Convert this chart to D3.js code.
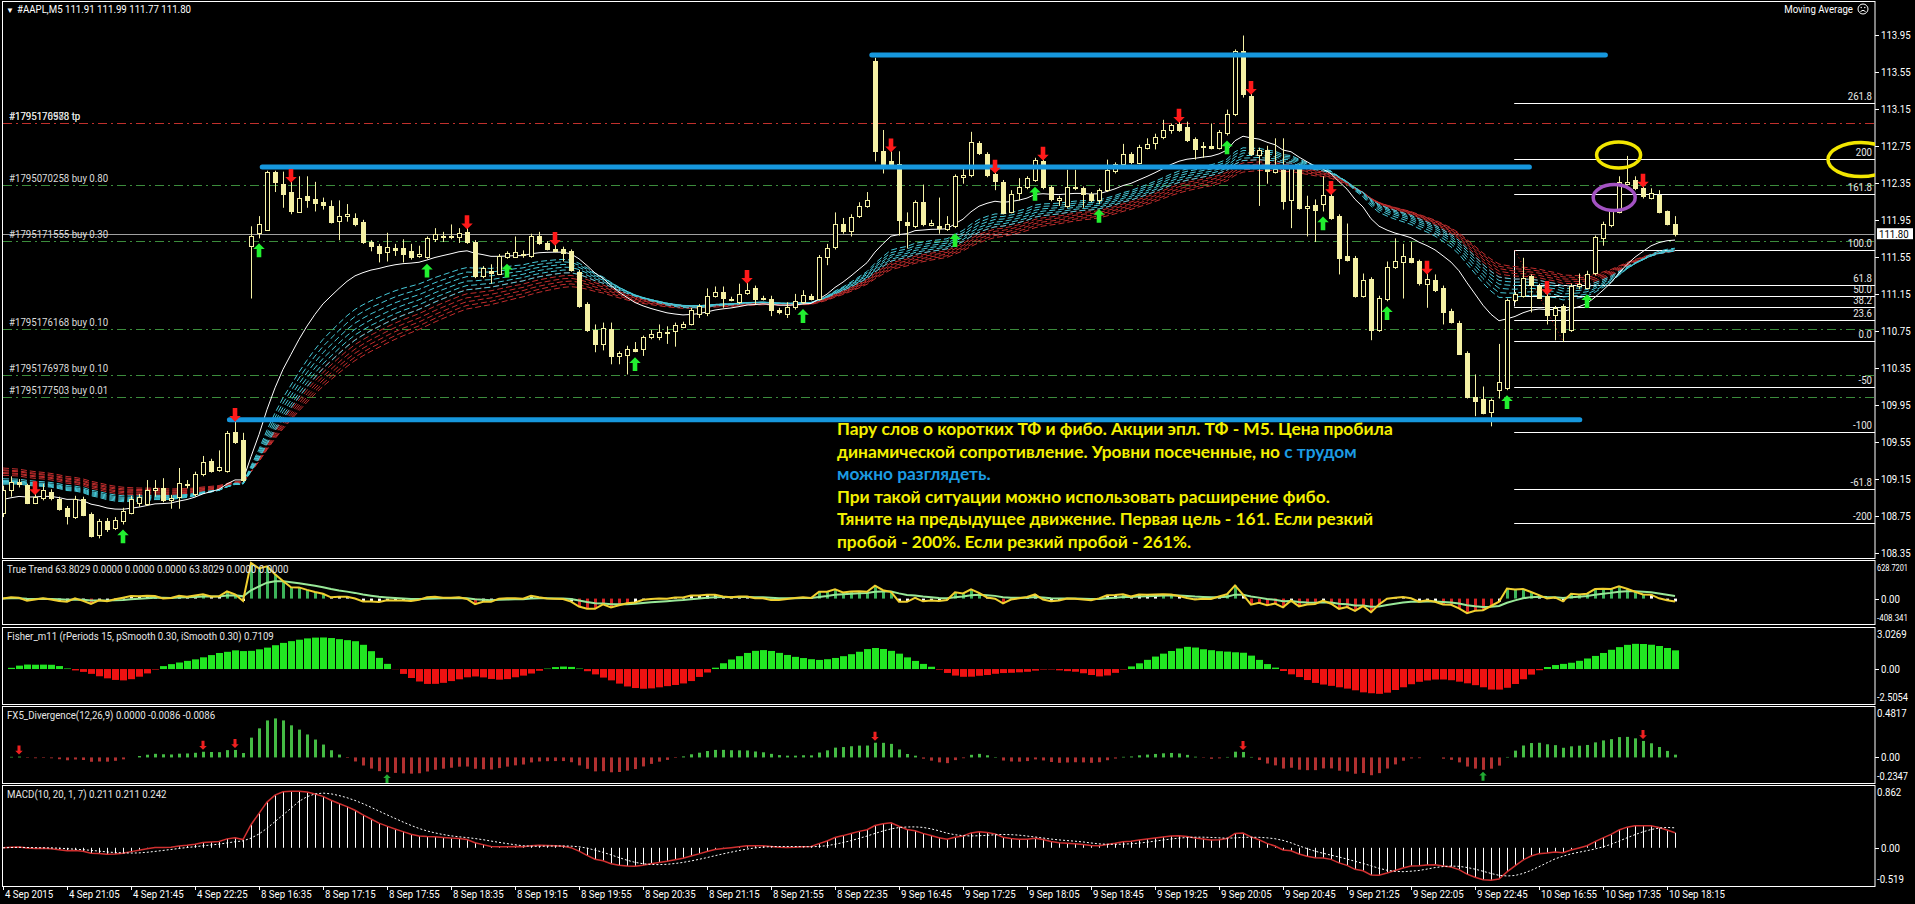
<!DOCTYPE html>
<html>
<head>
<meta charset="utf-8">
<script src="https://cdnjs.cloudflare.com/ajax/libs/d3/7.8.5/d3.min.js"></script>
<style>
  body{margin:0;background:#000;overflow:hidden}
  text{font-family:"Roboto","Liberation Sans",sans-serif;font-size:11px}
</style>
</head>
<body>
<svg id="chart" width="1915" height="904"></svg>
<script>
// ---------- data ----------
const timeLabels = ["4 Sep 2015","4 Sep 21:05","4 Sep 21:45","4 Sep 22:25","8 Sep 16:35","8 Sep 17:15","8 Sep 17:55",
  "8 Sep 18:35","8 Sep 19:15","8 Sep 19:55","8 Sep 20:35","8 Sep 21:15","8 Sep 21:55","8 Sep 22:35","9 Sep 16:45",
  "9 Sep 17:25","9 Sep 18:05","9 Sep 18:45","9 Sep 19:25","9 Sep 20:05","9 Sep 20:45","9 Sep 21:25","9 Sep 22:05",
  "9 Sep 22:45","10 Sep 16:55","10 Sep 17:35","10 Sep 18:15"];
const priceTicks = [113.95,113.55,113.15,112.75,112.35,111.95,111.55,111.15,110.75,110.35,109.95,109.55,109.15,108.75,108.35];

const opens = [108.78,109.03,109.12,109.09,108.90,108.94,109.01,108.94,108.84,108.75,108.94,108.77,108.55,108.70,108.62,108.70,108.79,108.90,108.88,109.03,
109.05,108.93,108.96,109.10,108.98,109.20,109.35,109.25,109.24,109.66,109.57,111.67,111.80,111.84,112.47,112.34,112.25,112.04,112.21,112.18,
112.14,112.10,111.94,111.99,111.97,111.93,111.71,111.67,111.61,111.65,111.65,111.61,111.56,111.55,111.75,111.77,111.76,111.77,111.82,111.71,
111.34,111.40,111.37,111.55,111.55,111.58,111.55,111.78,111.70,111.64,111.64,111.61,111.39,111.04,110.76,110.61,110.77,110.48,110.49,110.56,
110.55,110.69,110.69,110.74,110.74,110.80,110.83,110.93,110.95,111.13,111.17,111.10,111.06,111.16,111.21,111.11,111.10,110.98,110.93,111.00,
111.06,111.13,111.10,111.55,111.66,111.90,111.83,111.99,112.10,113.66,112.69,112.58,112.55,111.93,111.88,112.14,111.90,111.88,111.85,111.88,
112.41,112.43,112.78,112.66,112.44,112.36,112.04,112.23,112.30,112.38,112.58,112.30,112.17,112.10,112.30,112.29,112.23,112.16,112.27,112.47,
112.55,112.66,112.57,112.73,112.78,112.84,112.92,112.99,112.95,112.82,112.74,112.75,112.73,112.88,113.09,113.77,113.29,112.65,112.70,112.47,
112.49,112.16,112.50,112.08,112.11,112.12,112.21,111.99,111.56,111.54,111.13,111.31,110.76,111.09,111.44,111.50,111.54,111.50,111.26,111.30,
111.21,110.97,110.84,110.51,110.04,110.02,109.87,110.11,110.13,111.08,111.13,111.34,111.24,111.13,110.92,111.02,110.76,111.24,111.22,111.37,
111.76,111.89,112.04,112.34,112.38,112.29,112.19,112.22,112.05,111.91];
const highs = [109.08,109.18,109.15,109.10,108.99,109.10,109.04,108.96,108.86,108.97,108.96,108.79,108.72,108.73,108.74,108.84,108.97,108.99,109.14,109.14,
109.16,108.98,109.27,109.14,109.23,109.40,109.37,109.46,109.67,109.78,109.65,111.88,111.99,112.48,112.48,112.47,112.36,112.42,112.42,112.36,
112.19,112.16,112.16,112.12,112.02,111.95,111.73,111.69,111.81,111.69,111.74,111.69,111.67,111.77,111.86,111.82,111.90,111.86,111.86,111.73,
111.45,111.47,111.58,111.61,111.77,111.62,111.80,111.82,111.72,111.68,111.66,111.63,111.41,111.06,110.82,110.84,110.84,110.53,110.59,110.63,
110.70,110.76,110.82,110.80,110.84,110.85,111.00,111.04,111.21,111.23,111.23,111.12,111.26,111.27,111.24,111.13,111.13,111.00,111.06,111.15,
111.19,111.15,111.57,111.69,112.03,111.97,112.01,112.14,112.25,113.70,112.92,112.69,112.69,112.03,112.16,112.33,111.95,112.19,111.99,112.44,
112.53,112.90,112.80,112.68,112.46,112.38,112.27,112.40,112.42,112.62,112.60,112.32,112.21,112.49,112.49,112.31,112.25,112.29,112.60,112.57,
112.77,112.68,112.76,112.83,112.88,113.03,112.99,113.01,113.01,112.84,112.79,112.99,112.92,113.14,113.79,113.94,113.31,112.73,112.75,112.83,
112.83,112.53,112.55,112.21,112.17,112.42,112.23,112.01,111.91,111.56,111.37,111.33,111.13,111.50,111.75,111.69,111.71,111.52,111.37,111.36,
111.24,110.99,110.86,110.53,110.28,110.15,110.02,110.61,111.10,111.17,111.54,111.36,111.26,111.15,111.02,111.04,111.26,111.37,111.40,111.78,
111.93,112.06,112.42,112.64,112.42,112.31,112.29,112.27,112.05,111.99];
const lows = [108.74,108.96,109.06,108.88,108.88,108.92,108.92,108.81,108.66,108.72,108.75,108.52,108.51,108.58,108.60,108.66,108.77,108.85,108.86,108.96,
108.90,108.83,108.83,109.05,108.96,109.18,109.22,109.23,109.22,109.53,109.12,111.10,111.75,111.83,112.25,112.08,112.01,112.03,112.08,112.04,
112.06,111.91,111.73,111.93,111.88,111.69,111.61,111.49,111.50,111.56,111.49,111.52,111.54,111.53,111.71,111.71,111.74,111.70,111.69,111.32,
111.32,111.26,111.36,111.53,111.54,111.54,111.54,111.68,111.62,111.60,111.50,111.39,111.00,110.74,110.52,110.54,110.39,110.39,110.28,110.52,
110.48,110.66,110.65,110.61,110.58,110.78,110.81,110.89,110.91,111.11,111.00,111.07,111.04,111.14,111.04,111.08,110.91,110.93,110.89,110.98,
111.04,111.08,111.08,111.46,111.63,111.80,111.77,111.97,112.08,112.58,112.45,112.52,111.78,111.64,111.86,111.88,111.88,111.80,111.83,111.86,
112.34,112.41,112.65,112.41,112.27,112.01,112.02,112.16,112.28,112.36,112.28,112.15,112.10,112.08,112.27,112.08,112.14,112.12,112.25,112.45,
112.53,112.55,112.55,112.71,112.71,112.82,112.88,112.90,112.79,112.60,112.62,112.71,112.71,112.86,113.07,113.27,112.64,112.10,112.34,112.45,
112.06,111.86,112.06,111.77,111.71,112.04,111.95,111.36,111.50,111.11,111.11,110.65,110.74,111.07,111.42,111.10,111.48,111.24,111.00,111.17,
110.82,110.83,110.49,110.02,109.83,109.85,109.72,110.02,110.11,111.06,111.11,110.95,111.11,110.82,110.65,110.63,110.74,111.20,111.20,111.35,
111.67,111.87,112.02,112.32,112.27,112.18,112.17,112.02,111.89,111.77];
const closes = [109.03,109.12,109.10,108.90,108.96,109.03,108.95,108.83,108.75,108.94,108.77,108.53,108.70,108.61,108.71,108.81,108.94,108.96,109.03,109.05,
108.92,108.95,109.11,109.09,109.20,109.33,109.24,109.28,109.65,109.55,109.14,111.78,111.90,112.47,112.36,112.23,112.04,112.19,112.17,112.14,
112.11,111.93,111.99,112.01,111.91,111.71,111.67,111.59,111.66,111.63,111.59,111.54,111.58,111.75,111.80,111.76,111.77,111.81,111.71,111.34,
111.43,111.38,111.56,111.59,111.60,111.57,111.77,111.70,111.64,111.62,111.60,111.41,111.02,110.76,110.61,110.78,110.48,110.51,110.56,110.54,
110.68,110.72,110.74,110.73,110.81,110.83,110.98,111.02,111.13,111.17,111.11,111.09,111.15,111.19,111.09,111.10,110.98,110.96,111.01,111.07,
111.14,111.10,111.55,111.65,111.91,111.82,111.98,112.10,112.16,112.69,112.55,112.55,111.95,111.90,112.14,111.90,111.92,111.86,111.90,112.42,
112.43,112.79,112.67,112.43,112.36,112.03,112.23,112.30,112.40,112.60,112.30,112.17,112.19,112.30,112.29,112.23,112.16,112.27,112.49,112.55,
112.66,112.57,112.74,112.77,112.84,112.92,112.97,112.92,112.81,112.71,112.75,112.73,112.90,113.09,113.77,113.31,112.66,112.70,112.47,112.50,
112.16,112.51,112.08,112.10,112.06,112.22,111.97,111.54,111.52,111.13,111.30,110.76,111.11,111.44,111.50,111.56,111.50,111.26,111.31,111.19,
110.95,110.85,110.51,110.04,110.00,109.87,110.00,110.20,111.08,111.15,111.32,111.24,111.11,110.92,111.00,110.74,111.24,111.26,111.37,111.76,
111.91,112.04,112.36,112.36,112.29,112.20,112.24,112.04,111.91,111.80];

// moving averages: periods and values at the first bar as seen on the chart
const maPeriod = 20, maSeed = 108.92;
const cyanPeriods = [28,30,32,34,36,38], cyanSeeds = [109.10,109.11,109.12,109.13,109.14,109.16];
const redPeriods = [38,40,42,44,46,48], redSeeds = [109.20,109.22,109.23,109.25,109.26,109.28];

// trade objects
const orderLevels = [112.33,111.72,110.77,110.27,110.04];
const orderNames = ["#1795070258 buy 0.80","#1795171555 buy 0.30","#1795176168 buy 0.10","#1795176978 buy 0.10","#1795177503 buy 0.01"];
const tpLevel = 113.00, tpNames = ["#1795170588 tp","#1795176978 tp"];
const bidPrice = 111.80;

// blue lines: start bar, end bar, price
const blueStart = [108.6, 32.4, 28.3], blueEnd = [200.3, 190.8, 197.1], bluePrice = [113.73, 112.52, 109.79];

// fibo expansion
const fibLevels = [261.8,200,161.8,100,61.8,50,38.2,23.6,0,-50,-100,-161.8,-200];
const fibLabels = ["261.8","200","161.8","100.0","61.8","50.0","38.2","23.6","0.0","-50","-100","-61.8","-200"];
const fibZero = 110.638, fibHundred = 111.621, fibStartBar = 188.9;
const fibTrendBars = [189,195], fibTrendPrices = [111.62,110.64];

// signal arrows
const upArrowBars = [15,32,53,63,79,100,119,129,137,153,165,173,188,198];
const downArrowBars = [4,29,36,58,69,93,111,124,130,147,156,166,178,193,205];
const fxDownBars = [2,25,29,109,155,205], fxUpBars = [48,185];

// ellipses: bar, price, rx, ry
const ellBars = [232.25,201.95,201.4], ellPrices = [112.60,112.65,112.19];
const ellRx = [33,22,21], ellRy = [17,13,13], ellColors = ["#f2e600","#f2e600","#a352c2"];

// indicator scale labels
const ttTicks = [628.7201,0,-408.341], ttTickText = ["628.7201","0.00","-408.341"];
const fiTicks = [3.0269,0,-2.5054], fiTickText = ["3.0269","0.00","-2.5054"];
const fxTicks = [0.4817,0,-0.2347], fxTickText = ["0.4817","0.00","-0.2347"];
const maTicks = [0.862,0,-0.519], maTickText = ["0.862","0.00","-0.519"];

const noteLines = [
  [["Пару слов о коротких ТФ и фибо. Акции эпл. ТФ - М5. Цена пробила","y"]],
  [["динамической сопротивление. Уровни посеченные, но ","y"],["с трудом","b"]],
  [["можно разглядеть.","b"]],
  [["При такой ситуации можно использовать расширение фибо.","y"]],
  [["Тяните на предыдущее движение. Первая цель - 161. Если резкий","y"]],
  [["пробой - 200%. Если резкий пробой - 261%.","y"]]
];

// ---------- layout ----------
const svg = d3.select('#chart');
const axisX = 1875;
const candleCol = '#f5f1a5';
const panel = {main:[1,558], tt:[560,624], fi:[627,704], fx:[706,783], ma:[785,886]};

svg.append('rect').attr('width',1915).attr('height',904).attr('fill','#000');
const defs = svg.append('defs');
Object.entries(panel).forEach(([k,[t,b]])=>{
  defs.append('clipPath').attr('id','clip-'+k).append('rect')
    .attr('x',3).attr('y',t+1).attr('width',axisX-3).attr('height',b-t-1);
});

const xs = d3.scaleLinear().domain([0,209]).range([3,1675]);
const ys = d3.scaleLinear().domain([108.35,113.95]).range([553.2,34.6]);
const px = v => Math.round(v)+0.5;

// helpers
function ema(arr, n, seed){
  const a = 2/(n+1);
  let p = seed===undefined ? arr[0] : seed;
  return arr.map((v,i)=> (i===0 && seed===undefined) ? p : (p = p + a*(v-p)));
}
function sma(arr, n){
  return arr.map((v,i)=> d3.mean(arr.slice(Math.max(0,i-n+1), i+1)));
}
const bars = d3.range(closes.length);

// frames
Object.values(panel).forEach(([t,b])=>{
  svg.append('rect').attr('x',2.5).attr('y',t+0.5).attr('width',axisX-2.5).attr('height',b-t)
    .attr('fill','none').attr('stroke','#fff').attr('stroke-width',1);
});

// ---------- main chart ----------
const main = svg.append('g').attr('clip-path','url(#clip-main)');

// fibo lines
const fibY = l => ys(fibZero + (fibHundred-fibZero)*l/100);
main.selectAll('line.fib').data(fibLevels).join('line').attr('class','fib')
  .attr('x1',xs(fibStartBar)).attr('x2',axisX).attr('y1',d=>px(fibY(d))).attr('y2',d=>px(fibY(d)))
  .attr('stroke','#fff').attr('stroke-width',1);
main.append('line').attr('x1',px(xs(fibStartBar))).attr('x2',px(xs(fibStartBar)))
  .attr('y1',fibY(100)).attr('y2',fibY(38.2)).attr('stroke','#fff');
main.append('line').attr('x1',xs(fibTrendBars[0])).attr('y1',ys(fibTrendPrices[0]))
  .attr('x2',xs(fibTrendBars[1])).attr('y2',ys(fibTrendPrices[1]))
  .attr('stroke','#d02020').attr('stroke-dasharray','1,3');

// order lines
main.selectAll('line.ord').data(orderLevels).join('line').attr('class','ord')
  .attr('x1',3).attr('x2',axisX).attr('y1',d=>px(ys(d))).attr('y2',d=>px(ys(d)))
  .attr('stroke','#3c8c3c').attr('stroke-dasharray','9,4,2,4');
main.append('line').attr('x1',3).attr('x2',axisX).attr('y1',px(ys(tpLevel))).attr('y2',px(ys(tpLevel)))
  .attr('stroke','#c0302c').attr('stroke-dasharray','9,4,2,4');
main.append('line').attr('x1',3).attr('x2',axisX).attr('y1',px(ys(bidPrice))).attr('y2',px(ys(bidPrice)))
  .attr('stroke','#a0a0a0');

// ribbons
const lineGen = d3.line().x((d,i)=>xs(i)).y(d=>ys(d));
redPeriods.forEach((p,k)=>{
  main.append('path').attr('d',lineGen(ema(closes,p,redSeeds[k]))).attr('fill','none')
    .attr('stroke','#c22d2d').attr('stroke-width',1).attr('stroke-dasharray','6,3');
});
cyanPeriods.forEach((p,k)=>{
  main.append('path').attr('d',lineGen(ema(closes,p,cyanSeeds[k]))).attr('fill','none')
    .attr('stroke','#46c8d8').attr('stroke-width',1).attr('stroke-dasharray','6,3');
});
main.append('path').attr('d',lineGen(ema(closes,maPeriod,maSeed))).attr('fill','none')
  .attr('stroke','#fff').attr('stroke-width',1);

// candles
main.selectAll('line.wick').data(bars).join('line').attr('class','wick')
  .attr('x1',i=>px(xs(i))).attr('x2',i=>px(xs(i)))
  .attr('y1',i=>ys(highs[i])).attr('y2',i=>ys(lows[i]))
  .attr('stroke',candleCol);
main.selectAll('rect.body').data(bars).join('rect').attr('class','body')
  .attr('x',i=>Math.round(xs(i))-2+0.5).attr('width',4)
  .attr('y',i=>Math.round(ys(Math.max(opens[i],closes[i])))+0.5)
  .attr('height',i=>Math.max(1,Math.round(Math.abs(ys(opens[i])-ys(closes[i])))))
  .attr('fill',i=>closes[i]>=opens[i] ? '#000' : candleCol)
  .attr('stroke',candleCol);

// order / tp labels
main.selectAll('text.ord').data(orderLevels).join('text').attr('class','ord mt')
  .attr('x',9).attr('y',d=>ys(d)-3).attr('fill','#dcdcdc').text((d,i)=>orderNames[i]);
tpNames.forEach(t=>{
  main.append('text').attr('class','mt').attr('x',9).attr('y',ys(tpLevel)-3).attr('fill','#dcdcdc').text(t);
});

// blue lines
main.selectAll('line.blue').data(bluePrice).join('line').attr('class','blue')
  .attr('x1',(d,i)=>xs(blueStart[i])).attr('x2',(d,i)=>xs(blueEnd[i]))
  .attr('y1',d=>ys(d)).attr('y2',d=>ys(d))
  .attr('stroke','#1697dd').attr('stroke-width',5).attr('stroke-linecap','round');

// arrows
function upArrow(cx, tip, s){
  return `M${cx},${tip} l${5*s},${5*s} l${-3*s},0 l0,${7*s} l${-4*s},0 l0,${-7*s} l${-3*s},0 Z`;
}
function downArrow(cx, tip, s){
  return `M${cx},${tip} l${5*s},${-5*s} l${-3*s},0 l0,${-7*s} l${-4*s},0 l0,${7*s} l${-3*s},0 Z`;
}
main.selectAll('path.up').data(upArrowBars).join('path').attr('class','up')
  .attr('d',i=>upArrow(xs(i), ys(lows[i])+5, 1.15)).attr('fill','#22f030');
main.selectAll('path.dn').data(downArrowBars).join('path').attr('class','dn')
  .attr('d',i=>downArrow(xs(i), ys(highs[i])+1, 1.15)).attr('fill','#ff1a1a');

// ellipses
main.selectAll('ellipse').data(ellBars).join('ellipse')
  .attr('cx',d=>xs(d)).attr('cy',(d,i)=>ys(ellPrices[i]))
  .attr('rx',(d,i)=>ellRx[i]).attr('ry',(d,i)=>ellRy[i])
  .attr('fill','none').attr('stroke',(d,i)=>ellColors[i]).attr('stroke-width',3.5);

// fib labels
svg.selectAll('text.fibl').data(fibLevels).join('text').attr('class','fibl mt')
  .attr('x',axisX-3).attr('y',d=>fibY(d)-3).attr('text-anchor','end')
  .attr('fill','#e8e8e8').text((d,i)=>fibLabels[i]);

// note text
const note = svg.append('g').style('font-weight','bold');
const noteTexts = noteLines.map((ln,k)=>{
  const t = note.append('text').attr('x',837).attr('y',435+k*22.5)
    .style('font-size','16px').style('font-family','Lato, "Open Sans", sans-serif');
  ln.forEach(([s,c])=> t.append('tspan').attr('fill', c==='y' ? '#f4f000' : '#1c9be2').text(s));
  return t;
});
const w0 = noteTexts[0].node().getComputedTextLength();
const fs = 16*556/w0;
noteTexts.forEach(t=>t.style('font-size',fs+'px'));

// header
svg.append('text').attr('x',6).attr('y',13).attr('fill','#fff').style('font-size','8px').text('▼');
const header = svg.append('text').attr('class','mt').attr('x',17).attr('y',13).attr('fill','#fff')
  .text('#AAPL,M5  111.91 111.99 111.77 111.80');
svg.append('text').attr('class','mt').attr('x',1853).attr('y',13).attr('text-anchor','end').attr('fill','#fff').text('Moving Average');
const face = svg.append('g').attr('transform','translate(1863,9)');
face.append('circle').attr('r',5).attr('fill','none').attr('stroke','#fff');
face.append('path').attr('d','M-2.5,2.5 Q0,0 2.5,2.5').attr('fill','none').attr('stroke','#fff');
face.append('circle').attr('cx',-1.8).attr('cy',-1.5).attr('r',0.7).attr('fill','#fff');
face.append('circle').attr('cx',1.8).attr('cy',-1.5).attr('r',0.7).attr('fill','#fff');

// price axis
svg.selectAll('line.ptick').data(priceTicks).join('line').attr('class','ptick')
  .attr('x1',axisX).attr('x2',axisX+4).attr('y1',d=>px(ys(d))).attr('y2',d=>px(ys(d))).attr('stroke','#fff');
svg.selectAll('text.ptick').data(priceTicks).join('text').attr('class','ptick mt')
  .attr('x',axisX+6).attr('y',d=>ys(d)+4).attr('fill','#fff').text(d=>d.toFixed(2));
svg.append('rect').attr('x',axisX+2).attr('y',ys(bidPrice)-5.5).attr('width',36).attr('height',11).attr('fill','#fff');
svg.append('text').attr('class','mt').attr('x',axisX+4).attr('y',ys(bidPrice)+4).attr('fill','#000').text(bidPrice.toFixed(2));

// ---------- indicator panels ----------
function panelScale(key, lo, hi){
  const [t,b] = panel[key];
  return d3.scaleLinear().domain([lo,hi]).range([b-1,t+1]);
}
function panelAxis(key, sc, ticks, texts, label){
  const [t,b] = panel[key];
  svg.append('line').attr('x1',axisX).attr('x2',axisX+4).attr('y1',px(sc(0))).attr('y2',px(sc(0))).attr('stroke','#fff');
  ticks.forEach((v,k)=>{
    const y = k===0 ? t+11 : (k===2 ? b-3 : sc(v)+4);
    svg.append('text').attr('class','mt axl').attr('x',k===1 ? axisX+6 : axisX+2).attr('y',y).attr('fill','#fff').text(texts[k]);
  });
  svg.append('text').attr('class','mt').attr('x',7).attr('y',t+13).attr('fill','#e6e6e6').text(label);
}

// True Trend
const mom = closes.map((c,i)=> i ? c-closes[i-1] : 0);
const ttVal = ema(mom,9).map(v=>v*1190);
const ttSig = ema(ttVal,10);
const ttY = panelScale('tt', ttTicks[2], ttTicks[0]);
const ttG = svg.append('g').attr('clip-path','url(#clip-tt)');
ttG.selectAll('line').data(bars).join('line')
  .attr('x1',i=>px(xs(i))).attr('x2',i=>px(xs(i))).attr('y1',ttY(0)).attr('y2',i=>ttY(ttVal[i]))
  .attr('stroke',i=> Math.abs(ttVal[i])<70 ? '#fff' : (ttVal[i]>0 ? '#3cb35a' : '#d42020')).attr('stroke-width',3);
ttG.append('path').attr('d',d3.line().x((d,i)=>xs(i)).y(d=>ttY(d))(ttSig)).attr('fill','none').attr('stroke','#98e898').attr('stroke-width',2);
ttG.append('path').attr('d',d3.line().x((d,i)=>xs(i)).y(d=>ttY(d))(ttVal)).attr('fill','none').attr('stroke','#f0d030').attr('stroke-width',2);
panelAxis('tt', ttY, ttTicks, ttTickText, 'True Trend 63.8029 0.0000 0.0000 0.0000 63.8029 0.0000 0.0000');

// Fisher
let v1 = 0, f1 = 0;
const fish = bars.map(i=>{
  const lo = Math.max(0,i-14);
  const mx = d3.max(highs.slice(lo,i+1)), mn = d3.min(lows.slice(lo,i+1));
  const mid = (highs[i]+lows[i])/2;
  let v = 0.3*2*((mid-mn)/((mx-mn)||1)-0.5) + 0.7*v1;
  v = Math.max(-0.999, Math.min(0.999, v));
  const f = 0.3*Math.log((1+v)/(1-v)) + 0.7*f1;
  v1 = v; f1 = f;
  return f;
});
const fiY = panelScale('fi', fiTicks[2], fiTicks[0]);
svg.append('g').attr('clip-path','url(#clip-fi)').selectAll('rect').data(bars).join('rect')
  .attr('x',i=>Math.round(xs(i))-3).attr('width',7)
  .attr('y',i=>Math.min(fiY(0),fiY(fish[i]))).attr('height',i=>Math.abs(fiY(fish[i])-fiY(0)))
  .attr('fill',i=>fish[i]>=0 ? '#22e622' : '#ee1212');
panelAxis('fi', fiY, fiTicks, fiTickText, 'Fisher_m11  (rPeriods 15, pSmooth 0.30, iSmooth 0.30)   0.7109');

// FX5 divergence (OsMA 12,26,9)
const e26 = ema(closes,26);
const macd12 = ema(closes,12).map((v,i)=>v-e26[i]);
const osSig = ema(macd12,9);
const osma = macd12.map((v,i)=>v-osSig[i]);
const fxY = panelScale('fx', fxTicks[2], fxTicks[0]);
const fxG = svg.append('g').attr('clip-path','url(#clip-fx)');
fxG.selectAll('line').data(bars).join('line')
  .attr('x1',i=>px(xs(i))).attr('x2',i=>px(xs(i))).attr('y1',fxY(0)).attr('y2',i=>fxY(osma[i]))
  .attr('stroke',i=>osma[i]>=0 ? '#44bb44' : '#b03030').attr('stroke-width',3);
fxG.selectAll('path.fdn').data(fxDownBars).join('path').attr('class','fdn')
  .attr('d',i=>downArrow(xs(i), fxY(Math.max(osma[i],0))-2, 0.75)).attr('fill','#ee2020');
fxG.selectAll('path.fup').data(fxUpBars).join('path').attr('class','fup')
  .attr('d',i=>upArrow(xs(i), fxY(Math.min(osma[i],0))+2, 0.75)).attr('fill','#22aa33');
panelAxis('fx', fxY, fxTicks, fxTickText, 'FX5_Divergence(12,26,9) 0.0000 -0.0086 -0.0086');

// MACD(10,20,1,7)
const e10 = ema(closes,10), e20 = ema(closes,20);
const macd = e10.map((v,i)=>v-e20[i]);
const macdSig = sma(macd,7);
const maY = panelScale('ma', maTicks[2], maTicks[0]);
const maG = svg.append('g').attr('clip-path','url(#clip-ma)');
maG.selectAll('line').data(bars).join('line')
  .attr('x1',i=>px(xs(i))).attr('x2',i=>px(xs(i))).attr('y1',maY(0)).attr('y2',i=>maY(macd[i]))
  .attr('stroke','#fff').attr('stroke-width',1);
maG.append('path').attr('d',d3.line().x((d,i)=>xs(i)).y(d=>maY(d))(macd)).attr('fill','none').attr('stroke','#d03030').attr('stroke-width',1.5);
maG.append('path').attr('d',d3.line().x((d,i)=>xs(i)).y(d=>maY(d))(macdSig)).attr('fill','none').attr('stroke','#fff').attr('stroke-dasharray','2,2');
panelAxis('ma', maY, maTicks, maTickText, 'MACD(10, 20, 1, 7) 0.211 0.211 0.242');

// time axis
svg.selectAll('line.ttick').data(timeLabels).join('line').attr('class','ttick')
  .attr('x1',(d,k)=>px(xs(k*8))).attr('x2',(d,k)=>px(xs(k*8))).attr('y1',886).attr('y2',890).attr('stroke','#fff');
svg.selectAll('text.tlab').data(timeLabels).join('text').attr('class','tlab mt')
  .attr('x',(d,k)=>xs(k*8)+2).attr('y',898).attr('fill','#fff').text(d=>d);

// squeeze the terminal font to the narrow width seen in the picture
const squeeze = 174/header.node().getComputedTextLength();
svg.selectAll('text.mt').each(function(){
  const w = this.getComputedTextLength()*squeeze;
  const isAxis = this.classList.contains('axl');
  const cap = isAxis ? Math.min(w, 1908-(+this.getAttribute('x'))) : w;
  d3.select(this).attr('textLength', cap).attr('lengthAdjust','spacingAndGlyphs');
  if (isAxis && cap < w) d3.select(this).style('font-size', (11*Math.max(0.85, cap/w)).toFixed(1)+'px');
});
</script>
</body>
</html>
